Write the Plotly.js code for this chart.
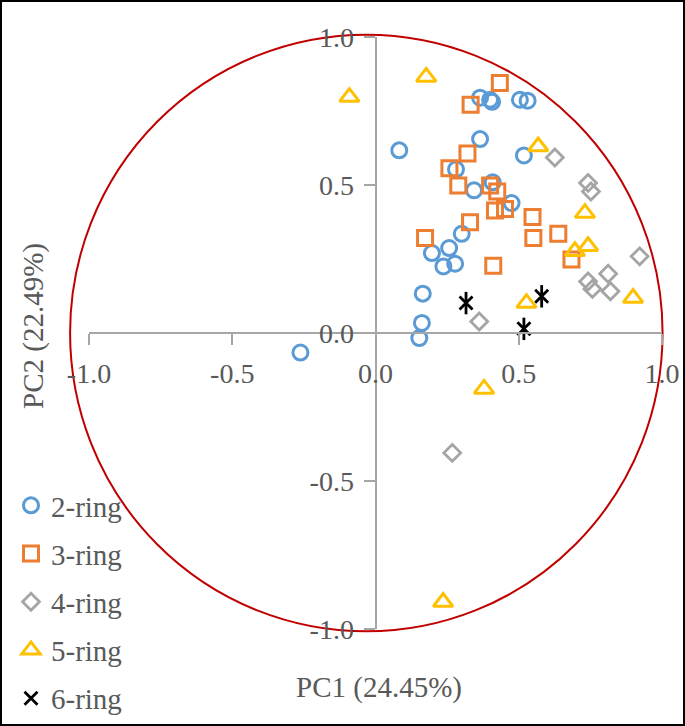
<!DOCTYPE html>
<html><head><meta charset="utf-8">
<script src="https://cdn.plot.ly/plotly-3.0.1.min.js"></script>
<style>html,body{margin:0;padding:0;background:#fff;overflow:hidden;} #chart{width:685px;height:726px;}</style>
</head><body><div id="chart"></div>
<script>
// ---- data (PC1, PC2 loadings) ----
const seriesNames = ['2-ring', '3-ring', '4-ring', '5-ring', '6-ring'];

const ring2PC1 = [0.083, -0.262, 0.165, 0.162, 0.153, 0.365, 0.400, 0.407, 0.504, 0.531, 0.365, 0.518, 0.281, 0.344, 0.409, 0.475, 0.301, 0.257, 0.197, 0.237, 0.278];
const ring2PC2 = [0.617, -0.066, 0.133, 0.034, -0.017, 0.795, 0.788, 0.781, 0.788, 0.785, 0.655, 0.600, 0.553, 0.482, 0.509, 0.439, 0.335, 0.287, 0.270, 0.225, 0.234];

const ring3PC1 = [0.434, 0.332, 0.321, 0.258, 0.289, 0.400, 0.425, 0.417, 0.452, 0.330, 0.173, 0.548, 0.551, 0.638, 0.411, 0.684];
const ring3PC2 = [0.845, 0.771, 0.606, 0.557, 0.498, 0.498, 0.478, 0.414, 0.419, 0.374, 0.321, 0.392, 0.321, 0.335, 0.227, 0.248];

const ring4PC1 = [0.626, 0.742, 0.752, 0.922, 0.742, 0.812, 0.757, 0.820, 0.362, 0.268];
const ring4PC2 = [0.593, 0.507, 0.478, 0.259, 0.174, 0.200, 0.149, 0.141, 0.039, -0.405];

const ring5PC1 = [-0.091, 0.177, 0.568, 0.731, 0.742, 0.696, 0.899, 0.527, 0.379, 0.236];
const ring5PC2 = [0.797, 0.865, 0.630, 0.405, 0.293, 0.276, 0.118, 0.101, -0.189, -0.909];

const ring6PC1 = [0.316, 0.580, 0.518];
const ring6PC2 = [0.101, 0.124, 0.014];

const tickValues = [-1, -0.5, 0, 0.5, 1];
const tickLabels = ['-1.0', '-0.5', '0.0', '0.5', '1.0'];

const xTitle = 'PC1 (24.45%)';
const yTitle = 'PC2 (22.49%)';

// ---- styling ----
const FONT = '"Liberation Serif", "Times New Roman", serif';
const TXT = '#595959';
const AX = '#A6A6A6';
const W = 685, H = 726;
const M = {l: 89, r: 23, t: 37, b: 97};
const xRange = [-1, 1], yRange = [-1, 1];
const pw = W - M.l - M.r, ph = H - M.t - M.b;
const px = v => (v - xRange[0]) / (xRange[1] - xRange[0]);
const py = v => (v - yRange[0]) / (yRange[1] - yRange[0]);

function mk(name, x, y, symbol, color, size, lw, group, showlegend) {
  return {
    type: 'scatter', mode: 'markers', name: name, x: x, y: y,
    legendgroup: group, showlegend: showlegend,
    cliponaxis: false,
    marker: {symbol: symbol, size: size, color: color, line: {color: color, width: lw}}
  };
}

const traces = [
  mk(seriesNames[0], ring2PC1, ring2PC2, 'circle-open', '#5B9BD5', 15, 3, 'g2', true),
  mk(seriesNames[1], ring3PC1, ring3PC2, 'square-open', '#ED7D31', 15, 3, 'g3', true),
  mk(seriesNames[2], ring4PC1, ring4PC2, 'diamond-open', '#A5A5A5', 13, 2.8, 'g4', true),
  mk(seriesNames[3], ring5PC1, ring5PC2, 'triangle-up-open', '#FFC000', 17, 3, 'g5', true),
  mk(seriesNames[4], ring6PC1, ring6PC2, 'x-thin-open', '#000000', 13, 2.8, 'g6', true),
  mk(seriesNames[4], ring6PC1, ring6PC2, 'line-ns-open', '#000000', 16, 2.8, 'g6', false)
];

const axisCommon = {
  showgrid: false, zeroline: false,
  showline: true, linecolor: AX, linewidth: 2,
  ticks: 'outside', ticklen: 11, tickwidth: 2, tickcolor: AX,
  tickmode: 'array', tickvals: tickValues, ticktext: tickLabels,
  tickfont: {family: FONT, size: 28, color: TXT},
  anchor: 'free', position: 0.5, fixedrange: true
};

const layout = {
  width: W, height: H,
  margin: {l: M.l, r: M.r, t: M.t, b: M.b, pad: 0, autoexpand: false},
  paper_bgcolor: '#ffffff', plot_bgcolor: 'rgba(0,0,0,0)',
  font: {family: FONT, color: TXT},
  xaxis: Object.assign({}, axisCommon, {range: xRange, ticklabelstandoff: 4}),
  yaxis: Object.assign({}, axisCommon, {range: yRange, ticklabelstandoff: 4}),
  showlegend: true,
  legend: {
    x: (11 - M.l) / pw, xanchor: 'left',
    y: 1 - (480 - M.t) / ph, yanchor: 'top',
    bgcolor: 'rgba(0,0,0,0)', borderwidth: 0,
    font: {family: FONT, size: 29, color: TXT},
    traceorder: 'grouped', tracegroupgap: 7.5,
    itemclick: false
  },
  shapes: [
    // correlation circle (as drawn in reference: slightly offset ellipse)
    {type: 'circle', xref: 'paper', yref: 'paper', layer: 'below',
     x0: px(-1.066), x1: px(1.002), y0: py(-1.008), y1: py(1.008),
     line: {color: '#C00000', width: 2}},
    // outer frame
    {type: 'rect', xref: 'paper', yref: 'paper', layer: 'above',
     x0: -M.l / pw, x1: (W - M.l) / pw, y0: -M.b / ph, y1: 1 + M.t / ph,
     line: {color: '#000000', width: 4}}
  ],
  annotations: [
    {text: xTitle, xref: 'paper', yref: 'paper', showarrow: false,
     x: (379 - M.l) / pw, y: 1 - (688 - M.t) / ph, xanchor: 'center', yanchor: 'middle',
     font: {family: FONT, size: 29, color: TXT}},
    {text: yTitle, xref: 'paper', yref: 'paper', showarrow: false, textangle: -90,
     x: (33 - M.l) / pw, y: 1 - (326 - M.t) / ph, xanchor: 'center', yanchor: 'middle',
     font: {family: FONT, size: 29, color: TXT}}
  ]
};

Plotly.newPlot('chart', traces, layout, {displayModeBar: false, staticPlot: true});
</script>
</body></html>
